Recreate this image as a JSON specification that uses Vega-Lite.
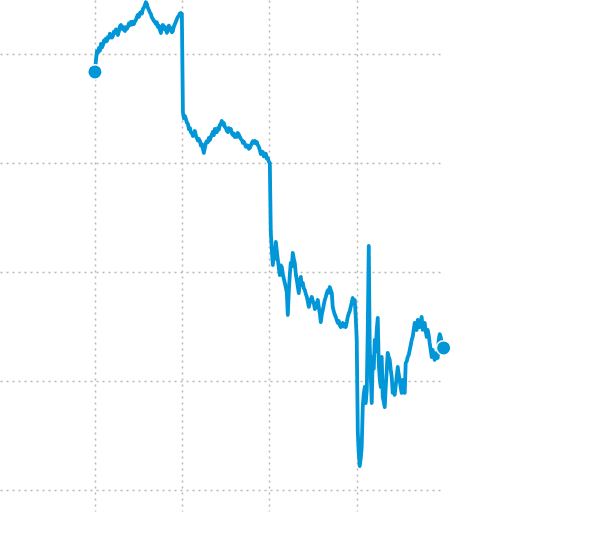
{
  "$schema": "https://vega.github.io/schema/vega-lite/v6.json",
  "width": 444,
  "height": 511,
  "autosize": {"type": "none"},
  "padding": {"left": 0, "top": 0, "right": 156, "bottom": 43},
  "background": "white",
  "config": {"view": {"stroke": null}},
  "data": {"values": [
    {"t": 2019.000, "v": 38.35}, {"t": 2019.011, "v": 39.36}, {"t": 2019.023, "v": 40.27}, {"t": 2019.034, "v": 40.10}, {"t": 2019.046, "v": 40.55},
    {"t": 2019.057, "v": 40.30}, {"t": 2019.069, "v": 40.92}, {"t": 2019.080, "v": 40.60}, {"t": 2019.092, "v": 40.82}, {"t": 2019.103, "v": 41.25}, {"t": 2019.115, "v": 41.10}, {"t": 2019.126, "v": 41.40}, {"t": 2019.137, "v": 41.19},
    {"t": 2019.149, "v": 41.55}, {"t": 2019.160, "v": 41.47}, {"t": 2019.172, "v": 41.85}, {"t": 2019.183, "v": 41.74}, {"t": 2019.195, "v": 41.50}, {"t": 2019.206, "v": 41.65}, {"t": 2019.218, "v": 42.05}, {"t": 2019.229, "v": 41.93},
    {"t": 2019.241, "v": 42.25}, {"t": 2019.252, "v": 42.02}, {"t": 2019.263, "v": 41.74}, {"t": 2019.275, "v": 42.10}, {"t": 2019.286, "v": 42.55}, {"t": 2019.298, "v": 42.66}, {"t": 2019.309, "v": 42.30}, {"t": 2019.321, "v": 42.48},
    {"t": 2019.332, "v": 42.20}, {"t": 2019.344, "v": 42.11}, {"t": 2019.355, "v": 42.45}, {"t": 2019.366, "v": 42.30}, {"t": 2019.378, "v": 42.48}, {"t": 2019.389, "v": 42.80}, {"t": 2019.400, "v": 42.65}, {"t": 2019.412, "v": 42.93}, {"t": 2019.424, "v": 42.70}, {"t": 2019.435, "v": 42.95}, {"t": 2019.447, "v": 42.75},
    {"t": 2019.458, "v": 43.00}, {"t": 2019.470, "v": 43.12}, {"t": 2019.481, "v": 43.40}, {"t": 2019.492, "v": 43.58}, {"t": 2019.504, "v": 43.40}, {"t": 2019.515, "v": 43.75}, {"t": 2019.527, "v": 43.85}, {"t": 2019.538, "v": 43.70}, {"t": 2019.550, "v": 44.13},
    {"t": 2019.561, "v": 44.25}, {"t": 2019.573, "v": 44.49}, {"t": 2019.584, "v": 44.75}, {"t": 2019.595, "v": 44.59}, {"t": 2019.607, "v": 44.22}, {"t": 2019.618, "v": 44.05}, {"t": 2019.630, "v": 43.80}, {"t": 2019.641, "v": 43.67},
    {"t": 2019.652, "v": 43.35}, {"t": 2019.664, "v": 43.21}, {"t": 2019.675, "v": 43.05}, {"t": 2019.687, "v": 42.93}, {"t": 2019.698, "v": 42.75}, {"t": 2019.710, "v": 42.90}, {"t": 2019.721, "v": 42.48}, {"t": 2019.733, "v": 42.60}, {"t": 2019.744, "v": 42.20},
    {"t": 2019.756, "v": 41.93}, {"t": 2019.767, "v": 42.40}, {"t": 2019.779, "v": 42.66}, {"t": 2019.790, "v": 42.30}, {"t": 2019.802, "v": 42.48}, {"t": 2019.813, "v": 42.20}, {"t": 2019.825, "v": 41.95}, {"t": 2019.836, "v": 42.11},
    {"t": 2019.847, "v": 42.60}, {"t": 2019.858, "v": 42.30}, {"t": 2019.870, "v": 42.38}, {"t": 2019.881, "v": 42.00}, {"t": 2019.893, "v": 42.11}, {"t": 2019.904, "v": 42.50}, {"t": 2019.916, "v": 42.75}, {"t": 2019.927, "v": 42.95}, {"t": 2019.939, "v": 43.20}, {"t": 2019.950, "v": 43.39},
    {"t": 2019.962, "v": 43.50}, {"t": 2019.973, "v": 43.70}, {"t": 2019.985, "v": 43.76}, {"t": 2019.996, "v": 43.67}, {"t": 2020.008, "v": 34.68}, {"t": 2020.019, "v": 34.10}, {"t": 2020.031, "v": 34.31},
    {"t": 2020.042, "v": 34.04}, {"t": 2020.054, "v": 33.70}, {"t": 2020.065, "v": 33.58}, {"t": 2020.077, "v": 33.10}, {"t": 2020.088, "v": 33.21}, {"t": 2020.100, "v": 32.80}, {"t": 2020.111, "v": 32.75},
    {"t": 2020.122, "v": 32.48}, {"t": 2020.134, "v": 32.60}, {"t": 2020.145, "v": 32.93}, {"t": 2020.157, "v": 32.50}, {"t": 2020.168, "v": 32.29}, {"t": 2020.180, "v": 32.05}, {"t": 2020.191, "v": 32.20}, {"t": 2020.202, "v": 32.02},
    {"t": 2020.214, "v": 31.60}, {"t": 2020.225, "v": 31.74}, {"t": 2020.237, "v": 31.30}, {"t": 2020.248, "v": 30.92}, {"t": 2020.260, "v": 31.40}, {"t": 2020.271, "v": 31.83}, {"t": 2020.282, "v": 32.00}, {"t": 2020.294, "v": 31.90}, {"t": 2020.305, "v": 32.29},
    {"t": 2020.316, "v": 32.10}, {"t": 2020.328, "v": 32.38}, {"t": 2020.339, "v": 32.60}, {"t": 2020.351, "v": 32.84}, {"t": 2020.362, "v": 32.55}, {"t": 2020.374, "v": 33.12}, {"t": 2020.385, "v": 33.00}, {"t": 2020.397, "v": 32.84},
    {"t": 2020.408, "v": 33.20}, {"t": 2020.420, "v": 33.05}, {"t": 2020.431, "v": 33.49}, {"t": 2020.443, "v": 33.60}, {"t": 2020.454, "v": 33.85}, {"t": 2020.466, "v": 33.50}, {"t": 2020.477, "v": 33.67}, {"t": 2020.489, "v": 33.30}, {"t": 2020.500, "v": 33.21},
    {"t": 2020.511, "v": 32.95}, {"t": 2020.523, "v": 32.84}, {"t": 2020.534, "v": 33.20}, {"t": 2020.546, "v": 32.95}, {"t": 2020.557, "v": 33.12}, {"t": 2020.569, "v": 32.70}, {"t": 2020.580, "v": 32.57}, {"t": 2020.592, "v": 32.70}, {"t": 2020.603, "v": 32.38},
    {"t": 2020.614, "v": 32.55}, {"t": 2020.626, "v": 32.40}, {"t": 2020.637, "v": 32.75}, {"t": 2020.649, "v": 32.60}, {"t": 2020.660, "v": 32.38}, {"t": 2020.672, "v": 32.20}, {"t": 2020.683, "v": 32.11}, {"t": 2020.695, "v": 31.85}, {"t": 2020.706, "v": 31.95}, {"t": 2020.718, "v": 31.74},
    {"t": 2020.729, "v": 31.50}, {"t": 2020.741, "v": 31.47}, {"t": 2020.752, "v": 31.60}, {"t": 2020.764, "v": 31.30}, {"t": 2020.775, "v": 31.38}, {"t": 2020.787, "v": 31.60}, {"t": 2020.798, "v": 31.83}, {"t": 2020.809, "v": 32.00}, {"t": 2020.821, "v": 31.85}, {"t": 2020.832, "v": 32.02},
    {"t": 2020.843, "v": 31.80}, {"t": 2020.855, "v": 31.93}, {"t": 2020.866, "v": 31.65}, {"t": 2020.878, "v": 31.47}, {"t": 2020.889, "v": 31.20}, {"t": 2020.901, "v": 30.82}, {"t": 2020.912, "v": 31.05}, {"t": 2020.924, "v": 31.01},
    {"t": 2020.935, "v": 30.60}, {"t": 2020.947, "v": 30.73}, {"t": 2020.958, "v": 30.85}, {"t": 2020.970, "v": 30.40}, {"t": 2020.981, "v": 30.46}, {"t": 2020.993, "v": 30.10}, {"t": 2021.004, "v": 30.00}, {"t": 2021.015, "v": 23.67},
    {"t": 2021.027, "v": 22.02}, {"t": 2021.038, "v": 20.64}, {"t": 2021.050, "v": 21.56}, {"t": 2021.061, "v": 21.20}, {"t": 2021.073, "v": 22.75},
    {"t": 2021.084, "v": 21.90}, {"t": 2021.096, "v": 21.10}, {"t": 2021.107, "v": 20.40}, {"t": 2021.118, "v": 19.72}, {"t": 2021.130, "v": 20.60}, {"t": 2021.141, "v": 20.46}, {"t": 2021.153, "v": 19.80}, {"t": 2021.164, "v": 19.40}, {"t": 2021.176, "v": 18.99},
    {"t": 2021.187, "v": 18.60}, {"t": 2021.199, "v": 18.07}, {"t": 2021.210, "v": 16.05}, {"t": 2021.222, "v": 18.30}, {"t": 2021.233, "v": 19.72}, {"t": 2021.244, "v": 20.83},
    {"t": 2021.256, "v": 20.50}, {"t": 2021.267, "v": 21.74}, {"t": 2021.279, "v": 21.20}, {"t": 2021.290, "v": 20.83}, {"t": 2021.302, "v": 19.80}, {"t": 2021.313, "v": 19.27}, {"t": 2021.324, "v": 18.70}, {"t": 2021.336, "v": 18.07},
    {"t": 2021.347, "v": 19.10}, {"t": 2021.359, "v": 19.54}, {"t": 2021.370, "v": 18.80}, {"t": 2021.382, "v": 18.99}, {"t": 2021.393, "v": 18.50}, {"t": 2021.405, "v": 18.35}, {"t": 2021.416, "v": 18.00}, {"t": 2021.428, "v": 17.71},
    {"t": 2021.439, "v": 17.30}, {"t": 2021.451, "v": 16.79}, {"t": 2021.462, "v": 17.20}, {"t": 2021.474, "v": 17.50}, {"t": 2021.485, "v": 17.71}, {"t": 2021.497, "v": 17.30}, {"t": 2021.508, "v": 17.16}, {"t": 2021.520, "v": 16.60}, {"t": 2021.531, "v": 16.79},
    {"t": 2021.543, "v": 17.10}, {"t": 2021.554, "v": 17.43}, {"t": 2021.566, "v": 16.70}, {"t": 2021.577, "v": 16.20}, {"t": 2021.588, "v": 15.41}, {"t": 2021.600, "v": 16.10}, {"t": 2021.611, "v": 16.51}, {"t": 2021.623, "v": 17.00}, {"t": 2021.634, "v": 17.43},
    {"t": 2021.645, "v": 17.70}, {"t": 2021.657, "v": 18.07}, {"t": 2021.668, "v": 18.30}, {"t": 2021.680, "v": 18.10}, {"t": 2021.691, "v": 18.62}, {"t": 2021.703, "v": 18.30}, {"t": 2021.714, "v": 18.07}, {"t": 2021.725, "v": 16.79},
    {"t": 2021.737, "v": 16.40}, {"t": 2021.748, "v": 16.10}, {"t": 2021.760, "v": 15.87}, {"t": 2021.771, "v": 15.60}, {"t": 2021.783, "v": 15.32}, {"t": 2021.794, "v": 15.50}, {"t": 2021.806, "v": 15.10}, {"t": 2021.817, "v": 14.95},
    {"t": 2021.829, "v": 15.20}, {"t": 2021.840, "v": 15.32}, {"t": 2021.851, "v": 15.00}, {"t": 2021.863, "v": 15.20}, {"t": 2021.874, "v": 14.95}, {"t": 2021.886, "v": 15.40}, {"t": 2021.897, "v": 15.87}, {"t": 2021.909, "v": 16.20}, {"t": 2021.920, "v": 16.40}, {"t": 2021.931, "v": 16.79},
    {"t": 2021.943, "v": 17.20}, {"t": 2021.954, "v": 17.61}, {"t": 2021.966, "v": 17.30}, {"t": 2021.977, "v": 17.43}, {"t": 2021.989, "v": 15.80}, {"t": 2022.000, "v": 13.76}, {"t": 2022.012, "v": 5.32}, {"t": 2022.023, "v": 3.40}, {"t": 2022.034, "v": 2.20},
    {"t": 2022.046, "v": 2.90}, {"t": 2022.057, "v": 3.94}, {"t": 2022.069, "v": 7.61}, {"t": 2022.080, "v": 8.80}, {"t": 2022.092, "v": 9.45}, {"t": 2022.103, "v": 7.98},
    {"t": 2022.115, "v": 9.17}, {"t": 2022.126, "v": 14.50}, {"t": 2022.138, "v": 22.38}, {"t": 2022.149, "v": 13.12}, {"t": 2022.160, "v": 10.73},
    {"t": 2022.172, "v": 7.98}, {"t": 2022.183, "v": 12.20}, {"t": 2022.195, "v": 11.10}, {"t": 2022.206, "v": 13.76}, {"t": 2022.218, "v": 12.70}, {"t": 2022.229, "v": 14.68},
    {"t": 2022.241, "v": 15.78}, {"t": 2022.252, "v": 11.65}, {"t": 2022.264, "v": 10.20}, {"t": 2022.275, "v": 9.45}, {"t": 2022.286, "v": 12.20},
    {"t": 2022.298, "v": 8.53}, {"t": 2022.309, "v": 8.10}, {"t": 2022.321, "v": 7.61}, {"t": 2022.332, "v": 9.40}, {"t": 2022.344, "v": 11.01}, {"t": 2022.355, "v": 12.57},
    {"t": 2022.367, "v": 12.20}, {"t": 2022.378, "v": 11.93}, {"t": 2022.390, "v": 11.00}, {"t": 2022.401, "v": 10.37}, {"t": 2022.412, "v": 8.90}, {"t": 2022.424, "v": 9.20}, {"t": 2022.435, "v": 8.72},
    {"t": 2022.447, "v": 9.60}, {"t": 2022.458, "v": 10.37}, {"t": 2022.470, "v": 11.28}, {"t": 2022.481, "v": 10.60}, {"t": 2022.493, "v": 10.09}, {"t": 2022.504, "v": 9.40}, {"t": 2022.515, "v": 8.90},
    {"t": 2022.527, "v": 10.09}, {"t": 2022.538, "v": 9.50}, {"t": 2022.550, "v": 8.90}, {"t": 2022.561, "v": 11.65}, {"t": 2022.573, "v": 11.80}, {"t": 2022.584, "v": 12.20}, {"t": 2022.596, "v": 12.40},
    {"t": 2022.607, "v": 12.84}, {"t": 2022.619, "v": 13.30}, {"t": 2022.630, "v": 13.76}, {"t": 2022.641, "v": 14.04}, {"t": 2022.653, "v": 14.70}, {"t": 2022.664, "v": 15.32},
    {"t": 2022.676, "v": 15.10}, {"t": 2022.687, "v": 14.68}, {"t": 2022.699, "v": 15.60}, {"t": 2022.710, "v": 15.20}, {"t": 2022.722, "v": 14.95}, {"t": 2022.733, "v": 15.50}, {"t": 2022.744, "v": 15.87},
    {"t": 2022.756, "v": 14.68}, {"t": 2022.767, "v": 15.10}, {"t": 2022.779, "v": 15.32}, {"t": 2022.790, "v": 14.60}, {"t": 2022.802, "v": 14.04}, {"t": 2022.813, "v": 14.68},
    {"t": 2022.825, "v": 14.20}, {"t": 2022.836, "v": 13.49}, {"t": 2022.847, "v": 12.90}, {"t": 2022.859, "v": 12.20}, {"t": 2022.870, "v": 12.84}, {"t": 2022.882, "v": 12.40}, {"t": 2022.893, "v": 11.93},
    {"t": 2022.905, "v": 12.20}, {"t": 2022.916, "v": 12.57}, {"t": 2022.928, "v": 12.11}, {"t": 2022.939, "v": 13.76}, {"t": 2022.951, "v": 14.30}, {"t": 2022.962, "v": 14.04}, {"t": 2022.973, "v": 13.50},
    {"t": 2022.996, "v": 13.03}
  ]},
  "encoding": {
    "x": {
      "field": "t", "type": "quantitative",
      "scale": {"domain": [2017.912, 2023.0], "nice": false, "zero": false},
      "axis": {"values": [2019, 2020, 2021, 2022], "grid": true, "gridColor": "#b8b8b8", "gridDash": [2, 4], "gridWidth": 1.5,
               "domain": false, "ticks": false, "labels": false, "title": null}
    },
    "y": {
      "field": "v", "type": "quantitative",
      "scale": {"domain": [-1.93, 44.95], "nice": false, "zero": false},
      "axis": {"values": [0, 10, 20, 30, 40], "grid": true, "gridColor": "#b8b8b8", "gridDash": [2, 4], "gridWidth": 1.5,
               "domain": false, "ticks": false, "labels": false, "title": null}
    }
  },
  "layer": [
    {"mark": {"type": "line", "color": "#0096d8", "strokeWidth": 3.8, "strokeJoin": "round", "strokeCap": "round", "clip": false}},
    {
      "transform": [{"filter": "datum.t == 2019 || datum.t == 2022.996"}],
      "mark": {"type": "circle", "color": "#0096d8", "opacity": 1, "size": 210, "stroke": "white", "strokeWidth": 1.5, "clip": false}
    }
  ]
}
